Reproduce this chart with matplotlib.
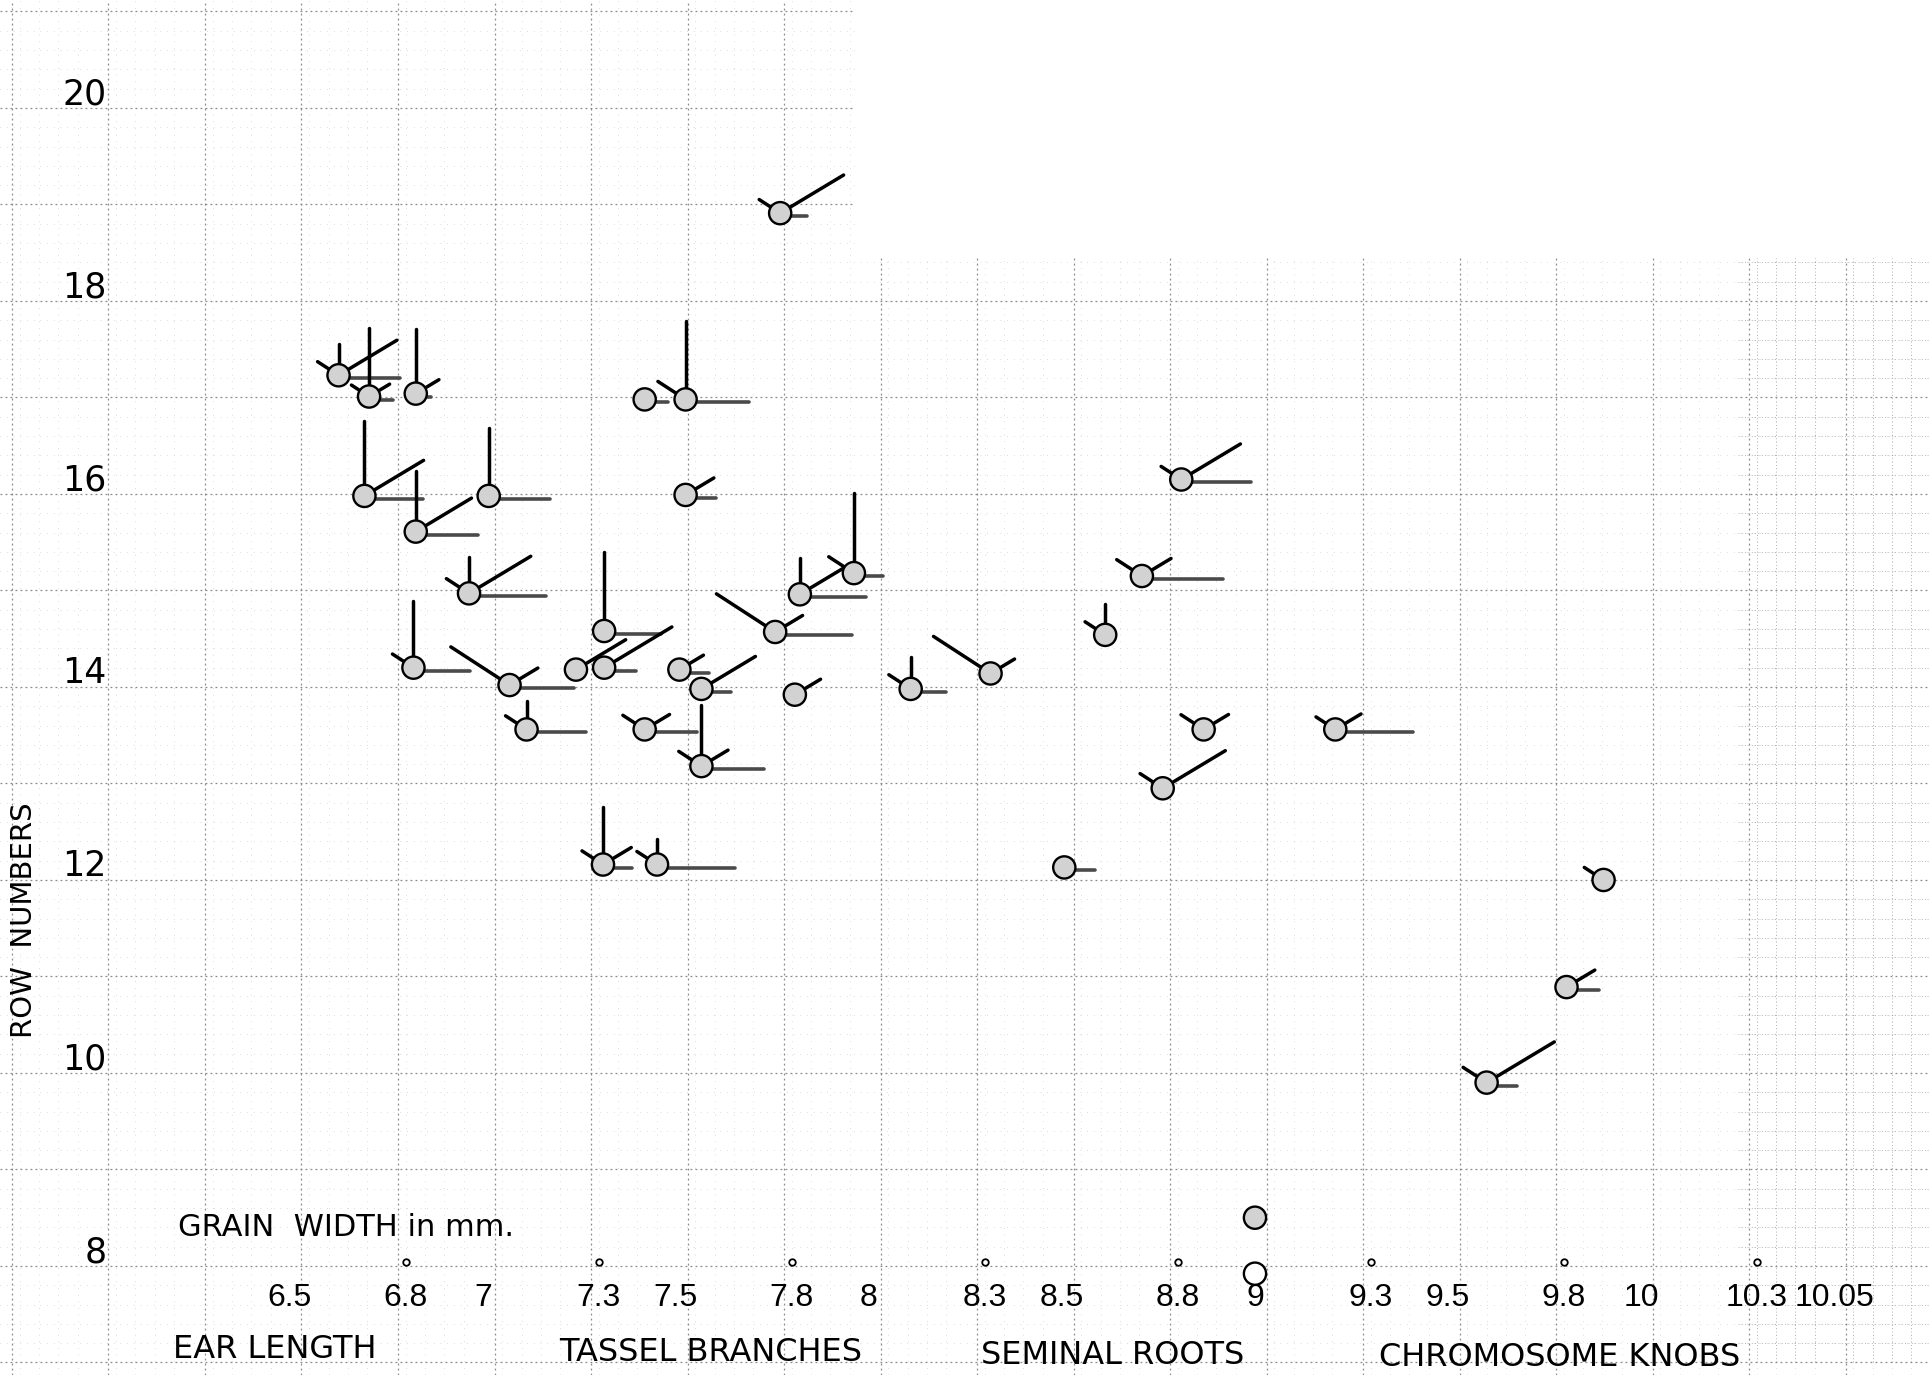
import matplotlib
matplotlib.use("Agg")
import matplotlib.pyplot as plt
import numpy as np
from matplotlib.patches import Rectangle

# ---------------- data ----------------
grain_width = [6.626, 6.705, 6.826, 7.419, 7.525, 7.770, 6.693, 6.826, 7.015, 7.525,
               6.964, 7.821, 7.961, 7.314, 7.757, 6.820, 7.069, 7.241, 7.314, 7.509,
               7.566, 7.808, 8.108, 8.315, 7.113, 7.419, 7.566, 8.867, 9.208, 7.311,
               7.451, 8.506, 8.809, 8.707, 8.612, 8.761, 9.903, 9.807, 9.600, 9.000,
               9.000]
row_number = [17.23, 17.01, 17.04, 16.98, 16.98, 18.91, 15.98, 15.61, 15.98, 15.99,
              14.97, 14.96, 15.18, 14.58, 14.57, 14.20, 14.02, 14.18, 14.20, 14.18,
              13.98, 13.92, 13.98, 14.14, 13.56, 13.56, 13.18, 13.56, 13.56, 12.16,
              12.16, 12.13, 16.15, 15.15, 14.54, 12.95, 12.00, 10.89, 9.90, 8.50,
              7.92]
# ray lengths of each glyph (relative scale)
ray_up = [31, 69, 65, 0, 78, 0, 75, 61, 68, 0,
          36, 36, 80, 79, 0, 67, 0, 0, 0, 0,
          0, 0, 32, 0, 28, 0, 61, 0, 0, 58,
          26, 0, 0, 0, 31, 0, 0, 0, 0, 0,
          0]
ray_upright = [68, 24, 27, 0, 0, 74, 69, 65, 0, 33,
               72, 50, 0, 0, 32, 0, 33, 58, 79, 28,
               63, 30, 0, 28, 0, 29, 31, 29, 30, 33,
               0, 0, 69, 34, 0, 73, 0, 33, 79, 0,
               0]
ray_upleft = [25, 21, 0, 0, 33, 25, 0, 0, 0, 0,
              27, 0, 30, 0, 70, 25, 70, 0, 0, 0,
              0, 0, 26, 68, 25, 26, 27, 27, 23, 25,
              24, 0, 24, 30, 24, 27, 23, 0, 28, 0,
              0]
ray_right = [61, 24, 15, 23, 63, 27, 59, 62, 61, 30,
             77, 66, 29, 57, 77, 57, 64, 9, 32, 30,
             30, 0, 35, 0, 59, 52, 63, 0, 78, 29,
             78, 31, 70, 81, 0, 0, 0, 32, 30, 0,
             0]
hollow = [False] * 40 + [True]

x_tick_values = [6.5, 6.8, 7, 7.3, 7.5, 7.8, 8, 8.3, 8.5, 8.8, 9, 9.3, 9.5, 9.8, 10, 10.3, 10.5]
x_tick_labels = ["6.5", "6.8", "7", "7.3", "7.5", "7.8", "8", "8.3", "8.5", "8.8", "9",
                 "9.3", "9.5", "9.8", "10", "10.3", "10.05"]
marked_ticks = [6.8, 7.3, 7.8, 8.3, 8.8, 9.3, 9.8, 10.3]
y_tick_values = [20, 18, 16, 14, 12, 10, 8]
y_tick_labels = ["20", "18", "16", "14", "12", "10", "8"]
legend_labels = ["EAR LENGTH", "TASSEL BRANCHES", "SEMINAL ROOTS", "CHROMOSOME KNOBS"]

# ---------------- layout ----------------
FONT = "DejaVu Sans"
TICKFONT = ["Liberation Sans", "DejaVu Sans"]
legend_x = [6.46, 7.59, 8.63, 9.79]
legend_y = [7.13, 7.10, 7.07, 7.05]

fig = plt.figure(figsize=(19.29, 13.75), dpi=100)
ax = fig.add_axes([0, 0, 1, 1])
ax.set_xlim(5.749, 10.746)
ax.set_ylim(6.870, 21.119)
ax.axis("off")

# graph paper
for k in range(0, 101):
    xv = 5.75 + 0.05 * k
    if k % 5:
        ax.axvline(xv, color="#d0d0d0", lw=0.6, ls=(0, (1, 7)), zorder=0.5)
for k in range(0, 71):
    yv = 7 + 0.2 * k
    if k % 5:
        ax.axhline(yv, color="#d0d0d0", lw=0.6, ls=(0, (1, 7)), zorder=0.5)
# denser strip on the right
for k in range(0, 11):
    xv = 10.25 + 0.05 * k
    if k % 5:
        ax.plot([xv, xv], [7, 18.45], color="#a0a0a0", lw=0.6, ls=(0, (1, 3)), zorder=0.6)
for k in range(0, 58):
    yv = 7 + 0.2 * k
    if k % 5:
        ax.plot([10.25, 10.75], [yv, yv], color="#a0a0a0", lw=0.6, ls=(0, (1, 3)), zorder=0.6)
for xv in np.arange(5.78, 10.76, 0.25):
    ax.axvline(xv, color="#8a8a8a", lw=0.9, ls=(0, (1.5, 2.5)), zorder=1)
for yv in range(7, 22):
    ax.axhline(yv, color="#8a8a8a", lw=0.9, ls=(0, (1.5, 2.5)), zorder=1)
# blank (unruled) area of the sheet, top right
ax.add_patch(Rectangle((0.443, 0.8124), 0.6, 0.2, transform=ax.transAxes,
                       facecolor="white", edgecolor="none", zorder=1.5))


def ray(x, y, length, angle_deg, drop=0.0, **kw):
    if length <= 0:
        return
    p = ax.transData.transform((x, y)) + np.array([0.0, -drop])
    a = np.deg2rad(angle_deg)
    q = p + length * np.array([np.cos(a), np.sin(a)])
    s = ax.transData.inverted().transform(p)
    e = ax.transData.inverted().transform(q)
    ax.plot([s[0], e[0]], [s[1], e[1]], solid_capstyle="round", **kw)


solid = dict(color="black", lw=2.5, zorder=3)
stipple = dict(color="#4a4a4a", lw=2.6, zorder=3)
for i in range(len(grain_width)):
    x, y = grain_width[i], row_number[i]
    ray(x, y, ray_up[i], 90, **solid)
    ray(x, y, ray_upright[i], 31, **solid)
    ray(x, y, ray_upleft[i], 147, **solid)
    ray(x, y, ray_right[i], 0, drop=3, **stipple)

fill = ["white" if h else "#d2d2d2" for h in hollow]
ax.scatter(grain_width, row_number, s=16 ** 2, c=fill, edgecolors="black",
           linewidths=1.7, zorder=5)

# small marks on the bottom line
ax.scatter(marked_ticks, [8.04] * len(marked_ticks), s=22, facecolor="white",
           edgecolors="black", linewidths=1.3, zorder=4)

# tick labels
for v, t in zip(x_tick_values, x_tick_labels):
    ax.text(v, 7.67, t, ha="center", va="center", fontsize=23, family=TICKFONT, zorder=6)
for v, t in zip(y_tick_values, y_tick_labels):
    ax.text(6.025, v + 0.14, t, ha="right", va="center", fontsize=25, family=FONT, zorder=6)

ax.text(6.21, 8.40, "GRAIN  WIDTH in mm.", ha="left", va="center", fontsize=22,
        family=FONT, zorder=6)
for lx, ly, t in zip(legend_x, legend_y, legend_labels):
    ax.text(lx, ly, t, ha="center", va="center", fontsize=23, family=FONT, zorder=6)
ax.text(5.81, 11.58, "ROW  NUMBERS", rotation=90, ha="center", va="center",
        fontsize=21, family=FONT, zorder=6)

fig.savefig("out.png", dpi=100, facecolor="white")
